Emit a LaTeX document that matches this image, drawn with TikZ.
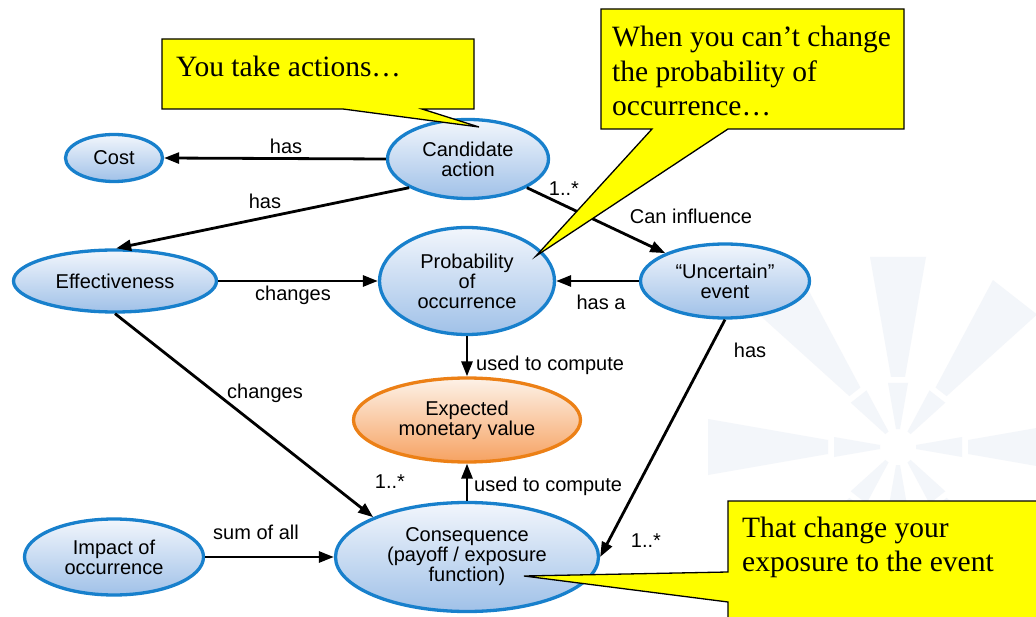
\documentclass[tikz,border=0pt]{standalone}
\usepackage{fontspec}
\setmainfont{Liberation Serif}
\newfontfamily\labelfont{Liberation Sans}
\usetikzlibrary{shapes.geometric,arrows.meta,calc}

\definecolor{cblue}{RGB}{24,128,204}
\definecolor{ctop}{RGB}{242,246,252}
\definecolor{cbot}{RGB}{160,193,232}
\definecolor{corange}{RGB}{236,128,22}
\definecolor{otop}{RGB}{253,242,232}
\definecolor{obot}{RGB}{246,162,98}
\definecolor{wmark}{RGB}{243,246,250}
\definecolor{noteyellow}{RGB}{255,255,0}

\tikzset{
  concept/.style={ellipse, draw=cblue, line width=3.3pt, top color=ctop,
    bottom color=cbot, inner sep=0pt, align=center, text=black,
    font=\labelfont\fontsize{20}{20}\selectfont},
  goal/.style={concept, draw=corange, top color=otop, bottom color=obot},
  rel/.style={line width=2.8pt, -{Triangle[length=15pt,width=11pt]}},
  lbl/.style={font=\labelfont\fontsize{20}{20}\selectfont, inner sep=0pt},
  note/.style={fill=noteyellow, draw=black, line width=1.3pt, line join=miter},
  notetext/.style={font=\fontsize{29.5}{34.5}\selectfont, align=left, inner sep=0pt},
}

\begin{document}
\begin{tikzpicture}[x=1pt,y=-1pt]
\useasboundingbox (0,0) rectangle (1036,617);
\clip (0,0) rectangle (1036,617);
\fill[white] (0,0) rectangle (1036,617);

% faint starburst watermark
\coordinate (C) at (898,447);
\foreach \a in {0,52,90,128,180,232,270,308} {
  \fill[wmark] ($(C)+(\a:70)+(\a+90:7)$) -- ($(C)+(\a:190)+(\a+90:28)$)
    -- ($(C)+(\a:190)+(\a-90:28)$) -- ($(C)+(\a:70)+(\a-90:7)$) -- cycle;
  \fill[wmark] ($(C)+(\a:18)+(\a+90:2)$) -- ($(C)+(\a:64)+(\a+90:10)$)
    -- ($(C)+(\a:64)+(\a-90:10)$) -- ($(C)+(\a:18)+(\a-90:2)$) -- cycle;
}

% concepts
\node[concept, minimum width=97, minimum height=47] (cost) at (114,158) {Cost};
\node[concept, minimum width=161, minimum height=79] (cand) at (468,159) {Candidate\\action};
\node[concept, minimum width=203, minimum height=62] (eff) at (115,281) {Effectiveness};
\node[concept, minimum width=175, minimum height=107] (prob) at (467,281) {Probability\\of\\occurrence};
\node[concept, minimum width=169, minimum height=74] (unc) at (725,281) {“Uncertain”\\event};
\node[goal, minimum width=227, minimum height=84] (emv) at (467,420) {Expected\\monetary value};
\node[concept, minimum width=263, minimum height=109] (cons) at (467,557) {Consequence\\(payoff / exposure\\function)};
\node[concept, minimum width=179, minimum height=76] (imp) at (114,557) {Impact of\\occurrence};

% relations
\draw[rel] (cand.west) -- (cost.east);
\draw[rel] (cand.206) -- (eff.88);
\draw[rel] (eff.east) -- (prob.west);
\draw[rel] (cand.-26) -- (unc.155);
\draw[rel] (unc.west) -- (prob.east);
\draw[rel] (prob.south) -- (emv.north);
\draw[rel] (cons.north) -- (emv.south);
\draw[rel] (eff.-90) -- (cons.157);
\draw[rel] (unc.south) -- (cons.east);
\draw[rel] (imp.east) -- (cons.west);

% relation labels
\node[lbl, anchor=base] (l1) at (286,154) {has};
\node[lbl, anchor=base] (l2) at (265,209) {has};
\node[lbl, anchor=base] (l3) at (293,301) {changes};
\node[lbl, anchor=base] (l4) at (564,196) {1..*};
\node[lbl, anchor=base] (l5) at (691,224) {Can influence};
\node[lbl, anchor=base] (l6) at (601,310) {has a};
\node[lbl, anchor=base] (l7) at (750,358) {has};
\node[lbl, anchor=base west] (l8) at (476,371) {used to compute};
\node[lbl, anchor=base west] (l9) at (474,491) {used to compute};
\node[lbl, anchor=base] (l10) at (265,399) {changes};
\node[lbl, anchor=base] (l11) at (390,488) {1..*};
\node[lbl, anchor=base] (l12) at (256,539) {sum of all};
\node[lbl, anchor=base] (l13) at (646,547) {1..*};

% callouts (text nodes are placed by the baseline of their last line)
\coordinate (t1) at (479,127);
\coordinate (t2) at (536,256);
\coordinate (t3) at (524,576);
\draw[note] (162,39) -- (474,39) -- (474,109) -- (422,109) -- (t1) -- (343,109) -- (162,109) -- cycle;
\node[notetext, anchor=base west] (n1) at (176,77) {You take actions…};

\draw[note] (601,9) -- (904,9) -- (904,129) -- (728,129) -- (t2) -- (652,129) -- (601,129) -- cycle;
\node[notetext, anchor=base west] (n2) at (612,116) {When you can’t change\\the probability of\\occurrence…};

\draw[note] (728,501) -- (1045,501) -- (1045,630) -- (728,630) -- (728,602) -- (t3) -- (728,572) -- cycle;
\node[notetext, font=\fontsize{29.5}{34}\selectfont, anchor=base west] (n3) at (742,571) {That change your\\exposure to the event};
\end{tikzpicture}
\end{document}
